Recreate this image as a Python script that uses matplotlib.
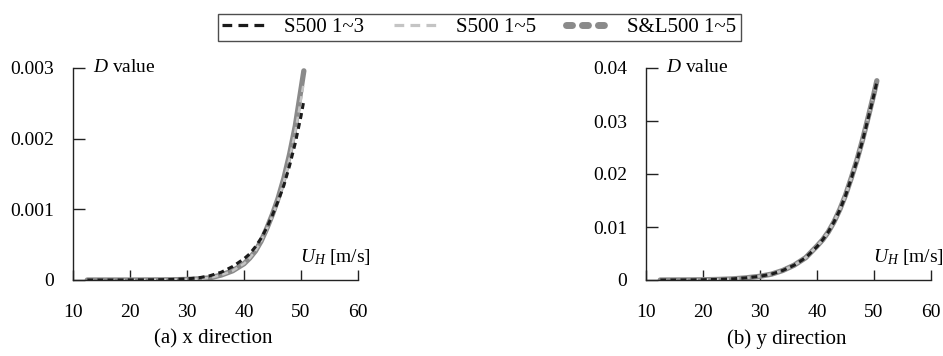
import matplotlib
matplotlib.use("Agg")
import matplotlib.pyplot as plt
from matplotlib.lines import Line2D

plt.rcParams["font.family"] = ["Liberation Serif", "DejaVu Serif"]
plt.rcParams["mathtext.fontset"] = "custom"
plt.rcParams["mathtext.rm"] = "Liberation Serif"
plt.rcParams["mathtext.it"] = "Liberation Serif:italic"
plt.rcParams["lines.scale_dashes"] = False

# Wind speed U_H [m/s]
speed = [12.5, 15, 17.5, 20, 22.5, 25, 27.5, 30, 32, 34, 36, 38, 40,
         41, 42, 43, 44, 45, 46, 47, 48, 49, 50, 50.5]

# (a) x direction, D value
x_s500_13 = [0.0, 0.0, 0.0, 0.000001, 0.000002, 0.000004, 0.000008, 0.000016,
             0.00003, 0.00006, 0.00011, 0.00019, 0.00030,
             0.00037, 0.00047, 0.00059, 0.00074, 0.00092, 0.00112, 0.00134,
             0.00162, 0.00194, 0.00232, 0.00254]
x_s500_15 = [0.0, 0.0, 0.0, 0.0, 0.000001, 0.000002, 0.000004, 0.000008,
             0.000016, 0.00003, 0.00007, 0.00013, 0.00023,
             0.00031, 0.00041, 0.00055, 0.00072, 0.00091, 0.00113, 0.00139,
             0.00172, 0.00210, 0.00256, 0.00280]
x_sl500_15 = [0.0, 0.0, 0.0, 0.0, 0.000001, 0.000002, 0.000004, 0.000008,
              0.000016, 0.00003, 0.00007, 0.00013, 0.00023,
              0.00031, 0.00041, 0.00055, 0.00073, 0.00093, 0.00116, 0.00144,
              0.00178, 0.00218, 0.00270, 0.00296]

# (b) y direction, D value
y_s500_13 = [0.0, 0.00001, 0.00002, 0.00005, 0.0001, 0.0002, 0.0004, 0.0007,
             0.0011, 0.0018, 0.0028, 0.0042, 0.0063,
             0.0076, 0.0091, 0.0110, 0.0132, 0.0159, 0.0191, 0.0225,
             0.0263, 0.0306, 0.0350, 0.0374]
y_s500_15 = [0.0, 0.00001, 0.00002, 0.00005, 0.0001, 0.0002, 0.0004, 0.0007,
             0.0011, 0.0018, 0.0028, 0.0042, 0.0064,
             0.0076, 0.0091, 0.0110, 0.0133, 0.0160, 0.0192, 0.0226,
             0.0265, 0.0308, 0.0352, 0.0376]
y_sl500_15 = [0.0, 0.00001, 0.00002, 0.00005, 0.0001, 0.0002, 0.0004, 0.0007,
              0.0011, 0.0018, 0.0028, 0.0042, 0.0064,
              0.0076, 0.0091, 0.0110, 0.0133, 0.0160, 0.0192, 0.0226,
              0.0265, 0.0308, 0.0352, 0.0376]

x_ticks = [10, 20, 30, 40, 50, 60]
yticks_a = [0, 0.001, 0.002, 0.003]
ylabels_a = ["0", "0.001", "0.002", "0.003"]
yticks_b = [0, 0.01, 0.02, 0.03, 0.04]
ylabels_b = ["0", "0.01", "0.02", "0.03", "0.04"]

series_labels = ["S500 1~3", "S500 1~5", "S&L500 1~5"]
captions = ["(a) x direction", "(b) y direction"]

DARK = "#1b1b1b"
LIGHT = "#c4c4c4"
MID = "#8a8a8a"

fig = plt.figure(figsize=(9.43, 3.56), dpi=100)
W, H = 943, 356


def make_axes(left_px):
    return fig.add_axes([left_px / W, 76 / H, 285 / W, 212 / H])


panels = [
    (make_axes(73), x_s500_13, x_s500_15, x_sl500_15, yticks_a, ylabels_a),
    (make_axes(646), y_s500_13, y_s500_15, y_sl500_15, yticks_b, ylabels_b),
]

for i, (ax, s13, s15, sl15, yt, yl) in enumerate(panels):
    ax.plot(speed, sl15, color=MID, lw=3.8, solid_capstyle="round",
            solid_joinstyle="round", zorder=2)
    ax.plot(speed, s15, color=LIGHT, lw=1.8, dashes=(4.5, 3.0), zorder=3)
    ax.plot(speed, s13, color=DARK, lw=2.2, dashes=(4.3, 3.0), zorder=4)

    ax.set_xlim(10, 60)
    ax.set_ylim(0, yt[-1])
    ax.set_xticks(x_ticks)
    ax.set_xticklabels([str(v) for v in x_ticks])
    ax.set_yticks(yt)
    ax.set_yticklabels(yl)
    for side in ("top", "right"):
        ax.spines[side].set_visible(False)
    for side in ("left", "bottom"):
        ax.spines[side].set_linewidth(1.0)
        ax.spines[side].set_color("#222222")
    ax.tick_params(axis="x", direction="in", length=7.5, width=1.0,
                   pad=17, labelsize=14, color="#222222")
    ax.tick_params(axis="y", direction="in", length=8.5, width=1.0,
                   pad=13.5, labelsize=14, color="#222222")
    for lab in ax.get_yticklabels() + ax.get_xticklabels():
        lab.set_clip_on(False)

    ax.text(0.07, 1.0, r"$D$ value", transform=ax.transAxes,
            fontsize=14, ha="left", va="center")
    ax.text(0.795, 0.108, r"$U_H$ [m/s]", transform=ax.transAxes,
            fontsize=14, ha="left", va="center")
    fig.text(ax.get_position().x0 + ax.get_position().width / 2 - 0.002,
             1 - 339 / H, captions[i], fontsize=15, ha="center", va="center")

handles = [
    Line2D([], [], color=DARK, lw=2.3, dashes=(7.0, 4.5)),
    Line2D([], [], color=LIGHT, lw=2.3, dashes=(7.0, 4.5)),
    Line2D([], [], color=MID, lw=5.0, dashes=(4.3, 7.2), dash_capstyle="round"),
]
leg = fig.legend(handles, series_labels, loc="center",
                 bbox_to_anchor=(479.5 / W, 1 - 27.5 / H), ncol=3,
                 frameon=True, fancybox=False, edgecolor="#222222",
                 fontsize=15, handlelength=2.0, handletextpad=0.95,
                 columnspacing=1.45, borderpad=0.2)
leg.get_frame().set_linewidth(1.0)

fig.savefig("out.png", dpi=100)
